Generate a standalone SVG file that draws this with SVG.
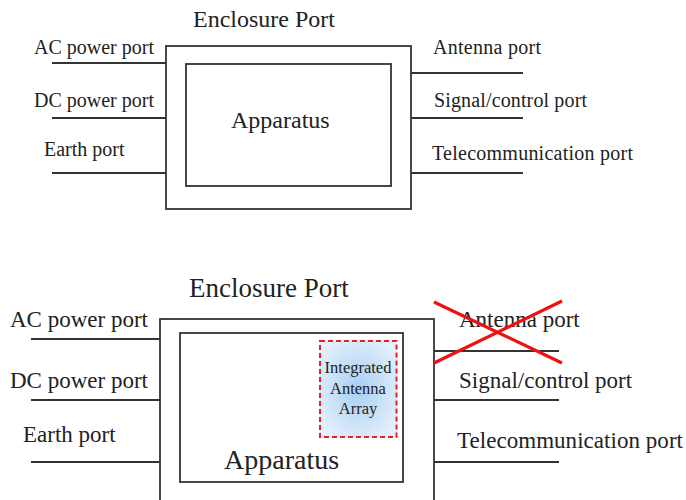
<svg xmlns="http://www.w3.org/2000/svg" width="686" height="500" viewBox="0 0 686 500">
<style>
.box{fill:none;stroke:#333;stroke-width:1.8}
.ln{stroke:#333;stroke-width:1.8;fill:none}
.t{font-family:"Liberation Serif","Times New Roman",serif;fill:#222}
.s20{font-size:20px}
.s24{font-size:24px}
.s23{font-size:23px}
.s27{font-size:27px}
.s28{font-size:28px}
.x{stroke:#f01010;stroke-width:3.2;stroke-linecap:butt}
</style>
<defs>
<radialGradient id="glow" cx="50%" cy="50%" r="60%">
<stop offset="0" stop-color="#a6cff2"/>
<stop offset="1" stop-color="#e4f0fb"/>
</radialGradient>
</defs>
<rect width="686" height="500" fill="#fff"/>

<!-- Top diagram -->
<g id="top-enclosure">
<rect class="box" x="166" y="46" width="245" height="163"/>
<text class="t s24" x="193" y="27">Enclosure Port</text>
</g>
<g id="top-apparatus">
<rect class="box" x="186" y="64" width="205" height="122"/>
<text class="t s24" x="231" y="128">Apparatus</text>
</g>
<g id="top-ac"><text class="t s20" x="34" y="54">AC power port</text></g>
<g id="top-dc"><text class="t s20" x="34" y="107">DC power port</text></g>
<g id="top-earth"><text class="t s20" x="44" y="156">Earth port</text></g>
<g id="top-antenna"><text class="t s20" x="433" y="54" textLength="108" lengthAdjust="spacing">Antenna port</text></g>
<g id="top-signal"><text class="t s20" x="434" y="107" textLength="153" lengthAdjust="spacing">Signal/control port</text></g>
<g id="top-telecom"><text class="t s20" x="432" y="160" textLength="201" lengthAdjust="spacing">Telecommunication port</text></g>

<!-- Bottom diagram -->
<g id="bot-enclosure">
<rect class="box" x="160" y="319" width="274" height="200"/>
<text class="t s27" x="189" y="297">Enclosure Port</text>
</g>
<g id="bot-apparatus">
<rect class="box" x="180" y="333" width="223" height="149"/>
<text class="t s28" x="224" y="469">Apparatus</text>
</g>
<g id="bot-array">
<rect x="320" y="341" width="76.5" height="96" fill="url(#glow)" stroke="#e8202a" stroke-width="2" stroke-dasharray="5,3"/>
<text class="t" font-size="16.5" fill="#333" text-anchor="middle" x="358" y="373">Integrated</text>
<text class="t" font-size="16.5" fill="#333" text-anchor="middle" x="358" y="394">Antenna</text>
<text class="t" font-size="16.5" fill="#333" text-anchor="middle" x="358" y="414">Array</text>
</g>
<g id="bot-ac"><text class="t s23" x="10" y="327">AC power port</text></g>
<g id="bot-dc"><text class="t s23" x="10" y="388">DC power port</text></g>
<g id="bot-earth"><text class="t s23" x="23" y="442">Earth port</text></g>
<g id="bot-antenna"><text class="t s23" x="459" y="327">Antenna port</text></g>
<g id="bot-signal"><text class="t s23" x="459" y="388">Signal/control port</text></g>
<g id="bot-telecom"><text class="t s23" x="457" y="448" textLength="226" lengthAdjust="spacing">Telecommunication port</text></g>

<g id="connectors">
<line class="ln" x1="52" y1="63" x2="166" y2="63"/>
<line class="ln" x1="52" y1="118" x2="166" y2="118"/>
<line class="ln" x1="52" y1="173" x2="166" y2="173"/>
<line class="ln" x1="411" y1="73" x2="523" y2="73"/>
<line class="ln" x1="411" y1="118" x2="523" y2="118"/>
<line class="ln" x1="411" y1="173" x2="523" y2="173"/>
<line class="ln" x1="31" y1="339" x2="160" y2="339"/>
<line class="ln" x1="31" y1="400" x2="160" y2="400"/>
<line class="ln" x1="31" y1="462" x2="160" y2="462"/>
<line class="ln" x1="434" y1="351" x2="559" y2="351"/>
<line class="ln" x1="434" y1="400" x2="559" y2="400"/>
<line class="ln" x1="434" y1="462" x2="559" y2="462"/>
</g>

<g id="cross">
<line class="x" x1="434" y1="302" x2="562" y2="363"/>
<line class="x" x1="434" y1="363" x2="562" y2="301"/>
</g>
</svg>
